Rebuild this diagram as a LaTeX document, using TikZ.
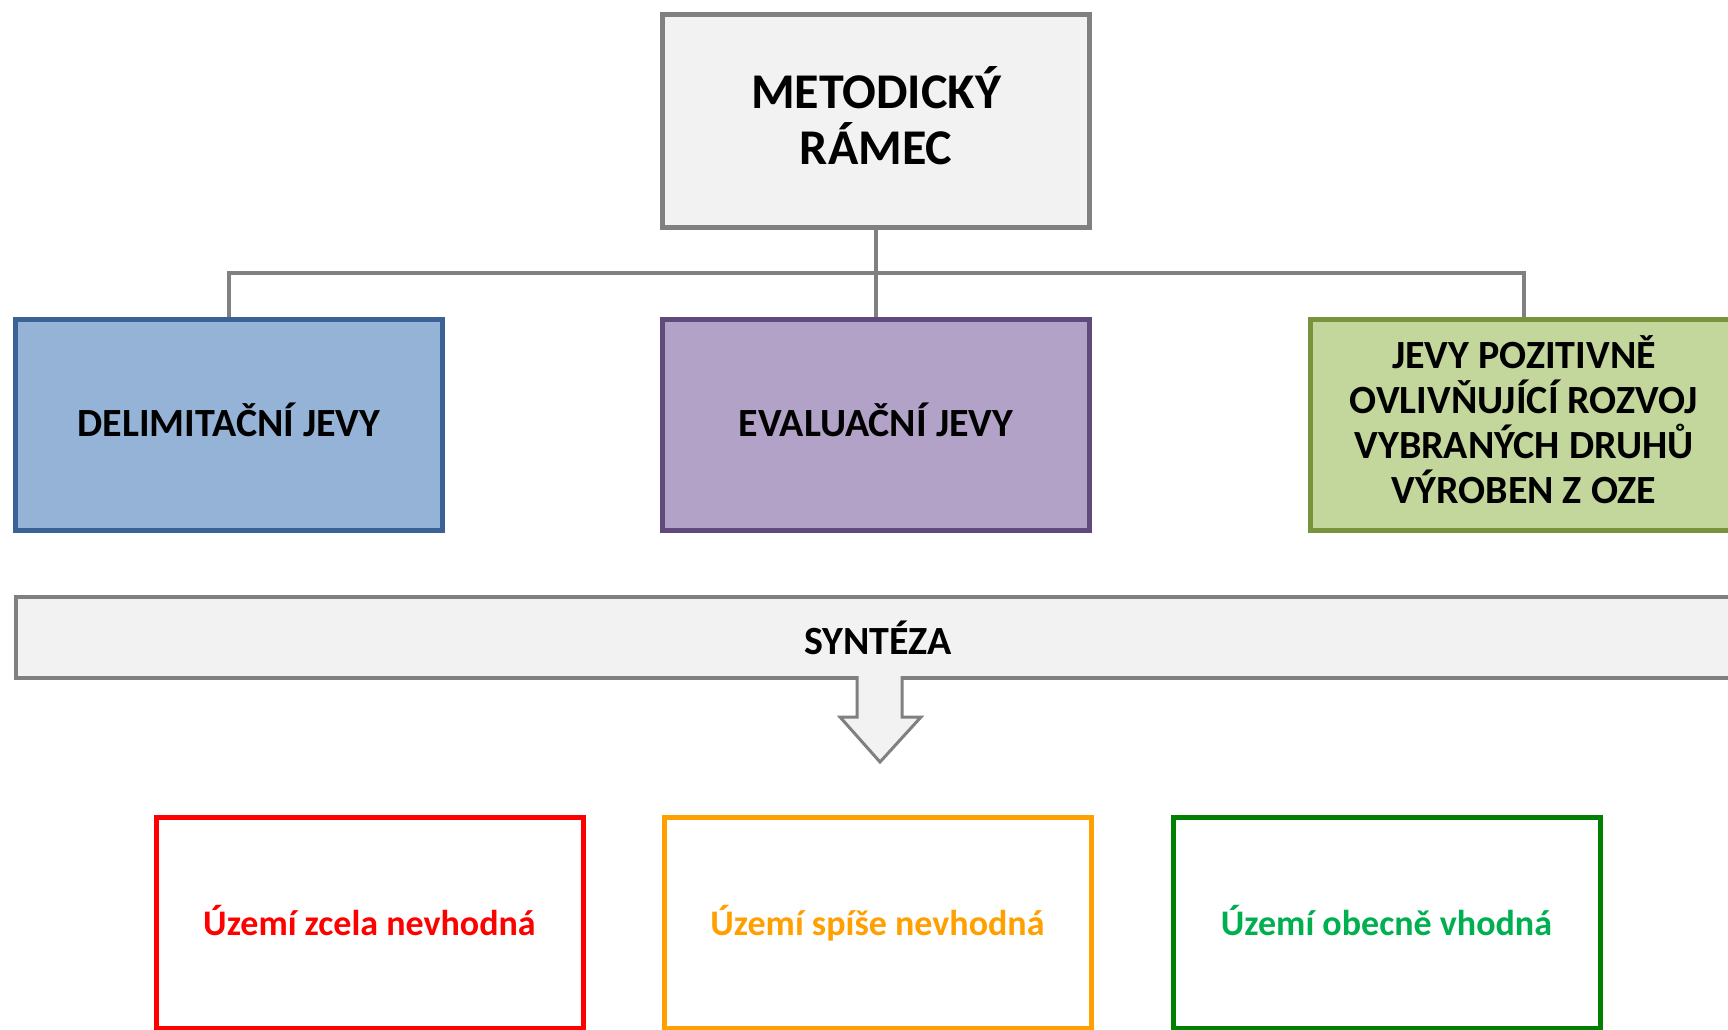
\documentclass[tikz,border=0pt]{standalone}
\usepackage{fontspec}
\setmainfont{Carlito}
\usepackage{tikz}

\definecolor{ramecGray}{HTML}{808080}
\definecolor{ramecFill}{HTML}{F2F2F2}
\definecolor{delimFill}{HTML}{95B3D7}
\definecolor{delimLine}{HTML}{3A6296}
\definecolor{evalFill}{HTML}{B3A2C7}
\definecolor{evalLine}{HTML}{604A7B}
\definecolor{pozitFill}{HTML}{C3D69B}
\definecolor{pozitLine}{HTML}{77933C}
\definecolor{uzemiRed}{HTML}{FF0000}
\definecolor{uzemiOrange}{HTML}{FFA000}
\definecolor{uzemiGreen}{HTML}{008000}
\definecolor{uzemiGreenText}{HTML}{00B050}

\tikzset{
    jevbox/.style={draw, rectangle, line width=5pt, minimum width=427pt, minimum height=211pt,
        inner sep=0pt, align=center, text depth=11pt, font=\bfseries\fontsize{40}{45}\selectfont},
    uzemibox/.style={jevbox, fill=white, text depth=6pt, font=\bfseries\fontsize{36}{40}\selectfont},
    spoj/.style={draw=ramecGray, line width=4pt}
}

\begin{document}
\begin{tikzpicture}[x=1pt, y=-1pt]
        %\draw[step=100pt,gray,very thin] (0,0) grid (1728,1029);
        \useasboundingbox (0,0) rectangle (1728,1029);

        \node[jevbox, draw=ramecGray, fill=ramecFill, minimum height=213pt,
              font=\bfseries\fontsize{50}{56}\selectfont] (ramec) at (876,121) {METODICKÝ\\RÁMEC};

        \node[jevbox, draw=delimLine, fill=delimFill] (delim) at (229,425) {DELIMITAČNÍ JEVY};
        \node[jevbox, draw=evalLine, fill=evalFill] (eval) at (876,425) {EVALUAČNÍ JEVY};
        \node[jevbox, draw=pozitLine, fill=pozitFill] (pozit) at (1524,425)
            {JEVY POZITIVNĚ\\OVLIVŇUJÍCÍ ROZVOJ\\VYBRANÝCH DRUHŮ\\VÝROBEN Z OZE};

        \coordinate (rozcesti) at (876,273);

        \draw[spoj] (ramec) -- (eval);
        \draw[spoj] (delim.north) |- (rozcesti) -| (pozit.north);

        \node[draw=ramecGray, fill=ramecFill, line width=4pt, minimum width=1724pt, minimum height=81pt,
              font=\bfseries\fontsize{40}{45}\selectfont] (synteza) at (878,637.5) {SYNTÉZA};

        \def\pfeil{(857,676) -- (857,717) -- (840,717) -- (880,762) -- (921,717) -- (902,717) -- (902,676)}
        \fill[ramecFill] \pfeil -- cycle;
        \draw[ramecGray, line width=3pt, line join=miter] \pfeil;

        \node[uzemibox, draw=uzemiRed, text=uzemiRed] (nevhodna) at (369.5,923) {Území zcela nevhodná};
        \node[uzemibox, draw=uzemiOrange, text=uzemiOrange] (spise) at (877.5,923) {Území spíše nevhodná};
        \node[uzemibox, draw=uzemiGreen, text=uzemiGreenText] (vhodna) at (1386.5,923) {Území obecně vhodná};
\end{tikzpicture}
\end{document}
